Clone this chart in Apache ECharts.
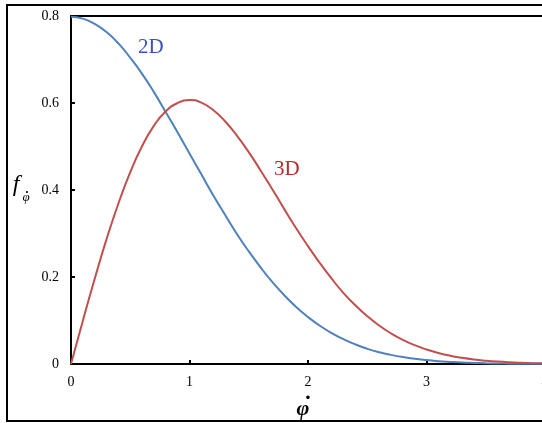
<!DOCTYPE html>
<html>
<head>
<meta charset="utf-8">
<script src="https://cdn.jsdelivr.net/npm/echarts@6/dist/echarts.min.js"></script>
<style>
	html, body { margin: 0; padding: 0; background: #fff; }
	#chart { width: 542px; height: 423px; }
</style>
</head>
<body>
<div id="chart"></div>
<script>
// phi-dot values along the x axis
const xValues = [
	0, 0.1, 0.2, 0.3, 0.4, 0.5, 0.6, 0.7, 0.8, 0.9,
	1.0, 1.1, 1.2, 1.3, 1.4, 1.5, 1.6, 1.7, 1.8, 1.9,
	2.0, 2.1, 2.2, 2.3, 2.4, 2.5, 2.6, 2.7, 2.8, 2.9,
	3.0, 3.1, 3.2, 3.3, 3.4, 3.5, 3.6, 3.7, 3.8, 3.9, 4.0
]
// 2D curve
const values2D = [
	0.798, 0.794, 0.782, 0.763, 0.737, 0.704, 0.667, 0.625, 0.579, 0.532,
	0.484, 0.436, 0.388, 0.343, 0.299, 0.259, 0.222, 0.188, 0.158, 0.131,
	0.108, 0.088, 0.071, 0.057, 0.045, 0.035, 0.027, 0.021, 0.016, 0.012,
	0.009, 0.0065, 0.0048, 0.0034, 0.0025, 0.0017, 0.0012, 0.0008, 0.0006, 0.0004, 0.0003
]
// 3D curve
const values3D = [
	0, 0.0995, 0.196, 0.287, 0.369, 0.441, 0.501, 0.548, 0.581, 0.600,
	0.607, 0.601, 0.584, 0.558, 0.525, 0.487, 0.445, 0.401, 0.356, 0.312,
	0.271, 0.232, 0.196, 0.163, 0.135, 0.110, 0.0885, 0.0705, 0.0556, 0.0433,
	0.0333, 0.0254, 0.0191, 0.0143, 0.0105, 0.0077, 0.0055, 0.0039, 0.0028, 0.0020, 0.0013
]
const xTicks = [0, 1, 2, 3, 4]
const yTicks = [0, 0.2, 0.4, 0.6, 0.8]

const serif = '"Liberation Serif", "Times New Roman", serif'
let myChart = echarts.init(document.getElementById('chart'))
let option = {
	backgroundColor: '#fff',
	animation: false,
	grid: {
		left: 71,
		top: 16,
		right: -3,
		bottom: 59,
		outerBoundsMode: 'none',
		containLabel: false,
		show: true,
		borderColor: '#000',
		borderWidth: 2
	},
	xAxis: {
		type: 'value',
		min: xTicks[0],
		max: xTicks[xTicks.length - 1],
		interval: 1,
		axisLine: { show: true, lineStyle: { color: '#000', width: 2 } },
		axisTick: { show: true, inside: true, length: 4, lineStyle: { color: '#000', width: 2 } },
		axisLabel: {
			margin: 11,
			fontFamily: serif,
			fontSize: 14,
			color: '#000'
		},
		splitLine: { show: false }
	},
	yAxis: {
		type: 'value',
		min: yTicks[0],
		max: yTicks[yTicks.length - 1],
		interval: 0.2,
		axisLine: { show: true, lineStyle: { color: '#000', width: 2 } },
		axisTick: { show: true, inside: true, length: 4, lineStyle: { color: '#000', width: 2 } },
		axisLabel: {
			margin: 12,
			fontFamily: serif,
			fontSize: 14,
			color: '#000',
			formatter: (v) => (v === 0 ? '0' : v.toFixed(1))
		},
		splitLine: { show: false }
	},
	graphic: [
		{
			type: 'rect',
			shape: { x: 7, y: 5, width: 560, height: 416 },
			style: { fill: 'none', stroke: '#000', lineWidth: 2 },
			silent: true
		},
		// x axis name: phi with a dot
		{
			type: 'text',
			x: 303,
			y: 409,
			style: { text: '\u03C6', font: 'italic bold 22px ' + serif, fill: '#000', align: 'center', verticalAlign: 'middle' }
		},
		{
			type: 'text',
			x: 308,
			y: 398,
			style: { text: '\u00B7', font: 'bold 22px ' + serif, fill: '#000', align: 'center', verticalAlign: 'middle' }
		},
		// y axis name: f with subscript phi-dot
		{
			type: 'text',
			x: 16,
			y: 185,
			style: { text: 'f', font: 'italic 24px ' + serif, fill: '#000', align: 'center', verticalAlign: 'middle' }
		},
		{
			type: 'text',
			x: 26,
			y: 198,
			style: { text: '\u03C6', font: 'italic 13px ' + serif, fill: '#000', align: 'center', verticalAlign: 'middle' }
		},
		{
			type: 'text',
			x: 27,
			y: 193,
			style: { text: '\u00B7', font: 'bold 13px ' + serif, fill: '#000', align: 'center', verticalAlign: 'middle' }
		},
		{
			type: 'text',
			left: 138,
			top: 37,
			style: { text: '2D', font: '21px ' + serif, fill: '#3a4fc4' }
		},
		{
			type: 'text',
			left: 274,
			top: 159,
			style: { text: '3D', font: '21px ' + serif, fill: '#b22a2a' }
		}
	],
	series: [
		{
			name: '2D',
			type: 'line',
			smooth: true,
			showSymbol: false,
			lineStyle: { color: '#4f81bd', width: 2 },
			data: xValues.map((x, i) => [x, values2D[i]])
		},
		{
			name: '3D',
			type: 'line',
			smooth: true,
			showSymbol: false,
			lineStyle: { color: '#c0504d', width: 2 },
			data: xValues.map((x, i) => [x, values3D[i]])
		}
	]
}
myChart.setOption(option)
</script>
</body>
</html>
